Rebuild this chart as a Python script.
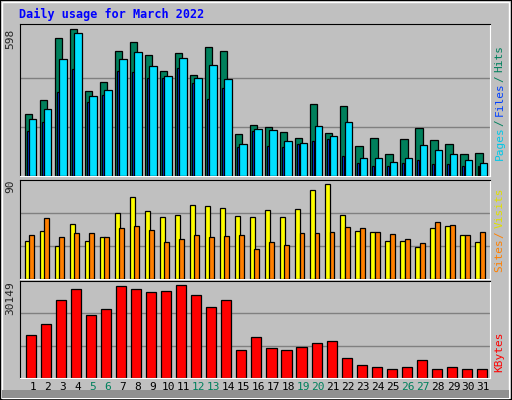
import numpy as np, pandas as pd, matplotlib
matplotlib.use("Agg")
import matplotlib.pyplot as plt, seaborn as sns
from matplotlib.patches import Rectangle

days = list(range(1, 32))
hits = [252,309,560,597,347,383,508,544,491,427,500,410,524,508,171,208,200,180,155,293,176,285,123,155,90,151,196,147,131,90,95]
files = [232,273,475,580,325,350,475,504,447,406,479,398,451,394,131,192,188,143,135,204,163,220,74,74,58,74,127,107,90,66,54]
pages = [184,220,342,435,301,329,427,423,398,398,439,378,313,358,119,184,123,119,131,143,151,82,54,42,42,54,66,50,50,42,42]
visits = [34.5,43.6,30,50,34.5,38,60,74.5,62,56,58,67,66,64.5,57,56,63,56,63.6,81,86,58,43.6,42.7,34.5,34.5,29,46,48,40,33.6]
sites = [40,55.5,38,42,42,38,46,48,44.5,33.6,36,40,38,39,40,27,33.6,31,42,42,42.7,47,46,42.7,41,36,32.7,52,49,40,42.7]
kbytes = [13400,16750,24360,27710,19490,21320,28620,27710,26800,27100,28930,25880,21930,24360,8830,12790,9440,8830,9740,10960,11570,6090,3960,3350,2740,3350,5480,2740,3350,2740,2740]
weekends = [5,6,12,13,19,20,26,27]

BG = "#C0C0C0"
mono = "DejaVu Sans Mono"
sns.set_style("white")
plt.rcParams["font.family"] = [mono]
fig = plt.figure(figsize=(5.12, 4.0), dpi=100, facecolor=BG)
fig.patches.append(Rectangle((0, 0), 1, 1, transform=fig.transFigure, fill=False, edgecolor="black", lw=1.5))
fig.patches.append(Rectangle((0.004, 0.006), 0.99, 0.988, transform=fig.transFigure, fill=False, edgecolor="white", lw=1))
fig.patches.append(Rectangle((0.004, 0.006), 0.99, 0.02, transform=fig.transFigure, facecolor="#909090", edgecolor="none"))
fig.text(0.037, 0.963, "Daily usage for March 2022", color="#0000FF", fontsize=8.5, fontweight="bold", va="center", family=mono)

def panel(bottom, height, vmax, grid, label, label_y):
    ax = fig.add_axes([0.04, bottom, 0.918, height])
    ax.set_facecolor(BG)
    ax.set_xlim(0.18, 31.47)
    ax.set_ylim(0, vmax)
    for g in grid:
        ax.axhline(g, color="#808080", lw=1, zorder=0)
    for s in ("left", "top"):
        ax.spines[s].set_color("black")
    for s in ("right", "bottom"):
        ax.spines[s].set_color("white")
    ax.text(-0.022, label_y, label, transform=ax.transAxes, rotation=90, ha="center", va="top", fontsize=8)
    return ax

def bars(ax, vals, off, w, color, z):
    df = pd.DataFrame({"x": np.array(days) + off, "y": vals})
    sns.barplot(data=df, x="x", y="y", native_scale=True, width=w, color=color, saturation=1,
                edgecolor="black", linewidth=0.9, ax=ax, zorder=z)

def tidy(ax):
    ax.set_xlim(0.18, 31.47); ax.set_yticks([]); ax.set_xlabel(""); ax.set_ylabel("")

ax1 = panel(0.56, 0.38, 618, [199, 399], "598", 0.97)
bars(ax1, hits, -0.29, 0.48, "#00805C", 2)
bars(ax1, pages, -0.33, 0.13, "#0040FF", 3)
bars(ax1, files, 0.0, 0.49, "#00E0FF", 4)
tidy(ax1); ax1.set_xticks([])
fig.text(0.976, 0.60, "Pages", rotation=90, color="#00C8E8", fontsize=8, ha="center", va="bottom")
fig.text(0.976, 0.685, "/", rotation=90, color="#00805C", fontsize=8, ha="center", va="bottom")
fig.text(0.976, 0.71, "Files", rotation=90, color="#0040FF", fontsize=8, ha="center", va="bottom")
fig.text(0.976, 0.795, "/", rotation=90, color="#00805C", fontsize=8, ha="center", va="bottom")
fig.text(0.976, 0.82, "Hits", rotation=90, color="#00805C", fontsize=8, ha="center", va="bottom")

ax2 = panel(0.3025, 0.2475, 90, [30, 60], "90", 1.0)
bars(ax2, visits, -0.37, 0.33, "#FFFF00", 2)
bars(ax2, sites, -0.08, 0.33, "#FF8000", 3)
tidy(ax2); ax2.set_xticks([])
fig.text(0.976, 0.32, "Sites", rotation=90, color="#FF8000", fontsize=8, ha="center", va="bottom")
fig.text(0.976, 0.405, "/", rotation=90, color="#FF8000", fontsize=8, ha="center", va="bottom")
fig.text(0.976, 0.43, "Visits", rotation=90, color="#E0E000", fontsize=8, ha="center", va="bottom")

ax3 = panel(0.055, 0.2425, 30149, [10050, 20100], "30149", 1.0)
bars(ax3, kbytes, -0.11, 0.67, "#FF0000", 2)
tidy(ax3)
ax3.set_xticks(days)
ax3.set_xticklabels([str(d) for d in days], fontsize=8)
ax3.tick_params(axis="x", length=0, pad=3)
for lbl, d in zip(ax3.get_xticklabels(), days):
    lbl.set_color("#00805C" if d in weekends else "black")
fig.text(0.976, 0.07, "KBytes", rotation=90, color="#FF0000", fontsize=8, ha="center", va="bottom")

fig.savefig("out.png", dpi=100, facecolor=BG)
